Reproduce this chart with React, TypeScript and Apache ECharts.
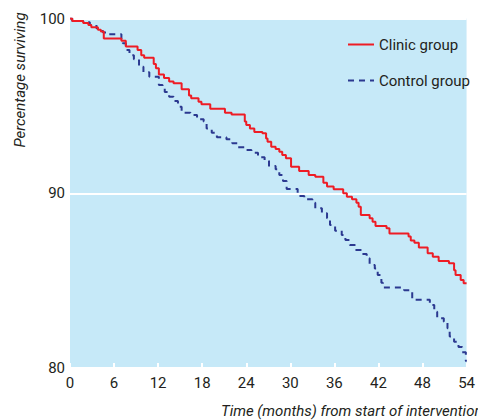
import React, { useEffect, useRef } from "react";
import * as echarts from "echarts";

const xTicks = [0, 6, 12, 18, 24, 30, 36, 42, 48, 54];
const yTicks = [80, 90, 100];

const clinicTime = [0, 0.3, 1.8, 2.5, 2.9, 3.8, 4.2, 4.6, 7.0, 7.6, 9.2, 9.7, 10.1, 11.4, 11.7, 12.1, 12.8, 13.5, 14.1, 15.2, 16.2, 16.5, 17.5, 17.9, 19.1, 21.1, 22.0, 23.8, 24.0, 24.5, 25.1, 26.2, 26.7, 26.9, 27.4, 28.0, 28.5, 28.9, 29.4, 30.1, 31.2, 32.5, 33.4, 34.5, 35.0, 35.9, 37.2, 37.7, 38.4, 39.0, 39.3, 39.6, 40.8, 41.2, 41.6, 43.1, 43.5, 46.1, 46.4, 46.9, 47.5, 48.7, 49.4, 50.2, 51.6, 52.3, 52.5, 53.2, 53.6, 54];
const clinicSurv = [100, 99.86, 99.74, 99.63, 99.5, 99.35, 99.25, 98.85, 98.72, 98.4, 98.2, 97.9, 97.75, 97.4, 97.15, 96.8, 96.6, 96.4, 96.3, 95.95, 95.6, 95.43, 95.24, 95.1, 94.84, 94.6, 94.5, 94.1, 93.9, 93.7, 93.5, 93.43, 93.14, 92.95, 92.66, 92.53, 92.38, 92.19, 92.0, 91.52, 91.28, 91.05, 90.95, 90.6, 90.38, 90.23, 90.0, 89.8, 89.65, 89.46, 89.23, 88.76, 88.57, 88.37, 88.13, 88.0, 87.7, 87.53, 87.3, 87.17, 86.9, 86.56, 86.37, 86.12, 85.99, 85.6, 85.32, 85.04, 84.85, 84.85];

const controlTime = [0, 0.3, 1.8, 2.7, 3.6, 3.8, 4.5, 5.1, 7.0, 7.2, 7.6, 8.1, 8.7, 9.4, 10.0, 10.8, 12.1, 12.6, 12.9, 13.5, 14.1, 14.7, 15.2, 16.4, 17.3, 18.2, 18.6, 19.3, 20.0, 21.3, 22.1, 22.9, 24.0, 24.7, 25.6, 26.5, 27.1, 28.0, 28.5, 29.0, 29.5, 31.0, 31.9, 33.0, 33.4, 34.3, 35.0, 35.4, 36.1, 37.0, 37.5, 38.1, 38.8, 39.7, 40.4, 40.8, 41.5, 41.9, 42.4, 42.6, 45.5, 46.6, 49.0, 49.6, 50.0, 50.9, 51.4, 51.7, 52.3, 52.9, 53.4, 53.9, 54];
const controlSurv = [100, 99.86, 99.78, 99.63, 99.44, 99.28, 99.2, 99.1, 98.83, 98.58, 98.2, 97.9, 97.67, 97.24, 96.92, 96.67, 96.2, 96.1, 95.8, 95.52, 95.28, 94.95, 94.6, 94.48, 94.23, 94.1, 93.7, 93.46, 93.2, 93.09, 92.86, 92.63, 92.48, 92.32, 92.06, 91.85, 91.56, 91.37, 91.04, 90.7, 90.25, 89.84, 89.65, 89.46, 89.14, 88.85, 88.57, 88.18, 87.86, 87.61, 87.32, 87.04, 86.75, 86.52, 86.28, 85.9, 85.7, 85.32, 84.88, 84.6, 84.45, 83.9, 83.6, 83.22, 82.84, 82.65, 82.27, 81.8, 81.5, 81.2, 80.9, 80.4, 80.4];

const seriesNames = ["Clinic group", "Control group"];
const yAxisTitle = "Percentage surviving";
const xAxisTitle = "Time (months) from start of intervention";

const FONT = "Roboto, 'Liberation Sans', Arial, sans-serif";
const TXT = "#231f20";

export default function App() {
  const ref = useRef<HTMLDivElement>(null);
  useEffect(() => {
    if (!ref.current) return;
    const chart = echarts.init(ref.current, undefined, { renderer: "svg" });
    const clinic = clinicTime.map((t, i) => [t, clinicSurv[i]]);
    const control = controlTime.map((t, i) => [t, controlSurv[i]]);
    chart.setOption({
      animation: false,
      backgroundColor: "#ffffff",
      grid: {
        left: 70,
        right: 7,
        top: 18.5,
        bottom: 52,
        show: true,
        backgroundColor: "#c6e9f8",
        borderWidth: 0,
      },
      legend: {
        orient: "vertical",
        left: 347,
        top: 37,
        padding: 0,
        itemWidth: 26,
        itemHeight: 14,
        itemGap: 21,
        itemStyle: { opacity: 0 },
        textStyle: { fontFamily: FONT, fontSize: 15, color: TXT },
        data: seriesNames,
      },
      xAxis: {
        type: "value",
        min: 0,
        max: 54,
        interval: 6,
        axisLine: { show: false },
        axisTick: { show: true, inside: true, length: 5, lineStyle: { color: "#ffffff", width: 2 } },
        axisLabel: {
          margin: 7,
          fontFamily: FONT,
          fontSize: 15,
          color: TXT,
          formatter: (v: number) => (xTicks.includes(v) ? String(v) : ""),
        },
        splitLine: { show: false },
      },
      yAxis: {
        type: "value",
        min: 80,
        max: 100,
        interval: 10,
        axisLine: { show: false },
        axisTick: { show: true, inside: true, length: 5, lineStyle: { color: "#ffffff", width: 2 } },
        axisLabel: {
          margin: 5,
          fontFamily: FONT,
          fontSize: 15,
          color: TXT,
          formatter: (v: number) => (yTicks.includes(v) ? String(v) : ""),
        },
        splitLine: { show: true, lineStyle: { color: "#ffffff", width: 2 } },
      },
      graphic: [
        {
          type: "text",
          x: 20,
          y: 80,
          rotation: Math.PI / 2,
          style: {
            text: yAxisTitle,
            fontFamily: FONT,
            fontStyle: "italic",
            fontSize: 15,
            fill: TXT,
            textAlign: "center",
            textVerticalAlign: "middle",
          },
        },
        {
          type: "text",
          x: 221,
          y: 411,
          style: {
            text: xAxisTitle,
            fontFamily: FONT,
            fontStyle: "italic",
            fontSize: 15,
            fill: TXT,
            textAlign: "left",
            textVerticalAlign: "middle",
          },
        },
      ],
      series: [
        {
          name: seriesNames[0],
          type: "line",
          step: "end",
          data: clinic,
          showSymbol: false,
          symbol: "none",
          lineStyle: { color: "#ee1c25", width: 2 },
          itemStyle: { color: "#ee1c25" },
          z: 3,
        },
        {
          name: seriesNames[1],
          type: "line",
          step: "end",
          data: control,
          showSymbol: false,
          symbol: "none",
          lineStyle: { color: "#2b3990", width: 2, type: [6, 5] },
          itemStyle: { color: "#2b3990" },
          z: 2,
        },
      ],
    });
    return () => chart.dispose();
  }, []);
  return (
    <div
      ref={ref}
      style={{ position: "fixed", left: 0, top: 0, width: 478, height: 420 }}
    />
  );
}
